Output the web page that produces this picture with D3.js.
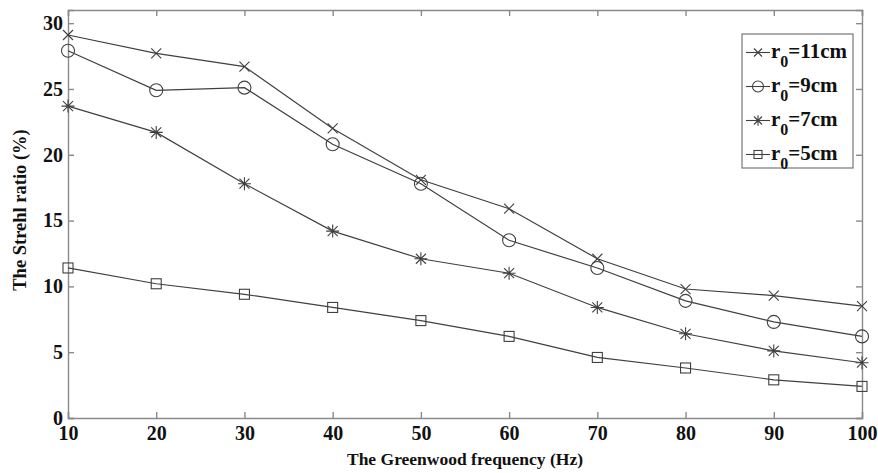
<!DOCTYPE html>
<html>
<head>
<meta charset="utf-8">
<script src="https://cdn.jsdelivr.net/npm/d3@7"></script>
<style>
  body { margin: 0; background: #fff; }
  text { font-family: "Liberation Serif", "Times New Roman", serif; font-weight: bold; fill: #111; }
</style>
</head>
<body>
<svg id="chart"></svg>
<script>
// Data
const frequencies = [10, 20, 30, 40, 50, 60, 70, 80, 90, 100];
const r11 = [29.1, 27.7, 26.7, 22.0, 18.1, 15.9, 12.1, 9.8, 9.3, 8.5];
const r9 = [27.9, 24.9, 25.1, 20.8, 17.8, 13.5, 11.4, 8.9, 7.3, 6.2];
const r7 = [23.7, 21.7, 17.8, 14.2, 12.1, 11.0, 8.4, 6.4, 5.1, 4.2];
const r5 = [11.4, 10.2, 9.4, 8.4, 7.4, 6.2, 4.6, 3.8, 2.9, 2.4];
const seriesNames = ['11cm', '9cm', '7cm', '5cm'];
const markers = ['x', 'circle', 'star', 'square'];
const yTicks = [0, 5, 10, 15, 20, 25, 30];

const width = 878;
const height = 473;
const padding = { top: 10, right: 16, bottom: 55, left: 68 };

const svg = d3.select('#chart')
  .attr('width', width)
  .attr('height', height);

const xScale = d3.scaleLinear()
  .domain([10, 100])
  .range([padding.left, width - padding.right]);

const yScale = d3.scaleLinear()
  .domain([0, 31])
  .range([height - padding.bottom, padding.top]);

const axisColor = '#8a8a8a';
const lineColor = '#404040';

// bottom and left axes, ticks pointing inward
const xAxis = svg.append('g')
  .attr('transform', `translate(0, ${yScale(0)})`)
  .call(d3.axisBottom(xScale).tickValues(frequencies).tickSize(-6).tickPadding(8));

const yAxis = svg.append('g')
  .attr('transform', `translate(${xScale(10)}, 0)`)
  .call(d3.axisLeft(yScale).tickValues(yTicks).tickSize(-6).tickPadding(5));

// top and right mirrors
const xTop = svg.append('g')
  .attr('transform', `translate(0, ${yScale(31)})`)
  .call(d3.axisTop(xScale).tickValues(frequencies).tickSize(-6).tickFormat(''));

const yRight = svg.append('g')
  .attr('transform', `translate(${xScale(100)}, 0)`)
  .call(d3.axisRight(yScale).tickValues(yTicks).tickSize(-6).tickFormat(''));

[xAxis, yAxis, xTop, yRight].forEach(g => {
  g.selectAll('path, line').attr('stroke', axisColor).attr('stroke-width', 1.4);
  g.selectAll('text').attr('font-size', 20).attr('fill', '#111');
});

// axis titles
svg.append('text')
  .attr('x', (xScale(10) + xScale(100)) / 2)
  .attr('y', height - 8)
  .attr('text-anchor', 'middle')
  .attr('font-size', 17.5)
  .text('The Greenwood frequency (Hz)');

svg.append('text')
  .attr('transform', `translate(26, ${(yScale(0) + yScale(31)) / 2 - 4}) rotate(-90)`)
  .attr('text-anchor', 'middle')
  .attr('font-size', 18.5)
  .text('The Strehl ratio (%)');

function drawMarker(g, type, size) {
  const s = size;
  if (type === 'x') {
    g.append('path').attr('d', `M${-s},${-s}L${s},${s}M${-s},${s}L${s},${-s}`);
  } else if (type === 'circle') {
    g.append('circle').attr('r', s + 1.5).attr('fill', 'none');
  } else if (type === 'star') {
    g.append('path').attr('d',
      `M${-s},${-s}L${s},${s}M${-s},${s}L${s},${-s}M0,${-s * 1.3}L0,${s * 1.3}M${-s * 1.3},0L${s * 1.3},0`);
  } else {
    g.append('rect').attr('x', -s).attr('y', -s)
      .attr('width', 2 * s).attr('height', 2 * s).attr('fill', 'none');
  }
}

const allSeries = [r11, r9, r7, r5];
const line = d3.line()
  .x((d, i) => xScale(frequencies[i]))
  .y(d => yScale(d));

allSeries.forEach((values, k) => {
  svg.append('path')
    .datum(values)
    .attr('fill', 'none')
    .attr('stroke', lineColor)
    .attr('stroke-width', 1.2)
    .attr('d', line);

  svg.selectAll(null)
    .data(values)
    .enter()
    .append('g')
    .attr('transform', (d, i) => `translate(${xScale(frequencies[i])}, ${yScale(d)})`)
    .attr('stroke', lineColor)
    .attr('stroke-width', 1.1)
    .attr('fill', 'none')
    .each(function () { drawMarker(d3.select(this), markers[k], 5); });
});

// legend
const legend = svg.append('g').attr('transform', 'translate(742, 34)');
legend.append('rect')
  .attr('width', 111)
  .attr('height', 134)
  .attr('fill', '#fff')
  .attr('stroke', '#777')
  .attr('stroke-width', 1.2);

seriesNames.forEach((name, k) => {
  const y = 18.5 + k * 34;
  const row = legend.append('g').attr('transform', `translate(0, ${y})`);
  row.append('line')
    .attr('x1', 4).attr('x2', 28)
    .attr('stroke', lineColor).attr('stroke-width', 1.1);
  const m = row.append('g')
    .attr('transform', 'translate(16, 0)')
    .attr('stroke', lineColor).attr('stroke-width', 1.1).attr('fill', 'none');
  drawMarker(m, markers[k], 4);
  const t = row.append('text')
    .attr('x', 29)
    .attr('y', 5)
    .attr('font-size', 21);
  t.append('tspan').text('r');
  t.append('tspan').attr('font-size', 16).attr('dy', 9).text('0');
  t.append('tspan').attr('dy', -9).text('=' + name);
});
</script>
</body>
</html>
